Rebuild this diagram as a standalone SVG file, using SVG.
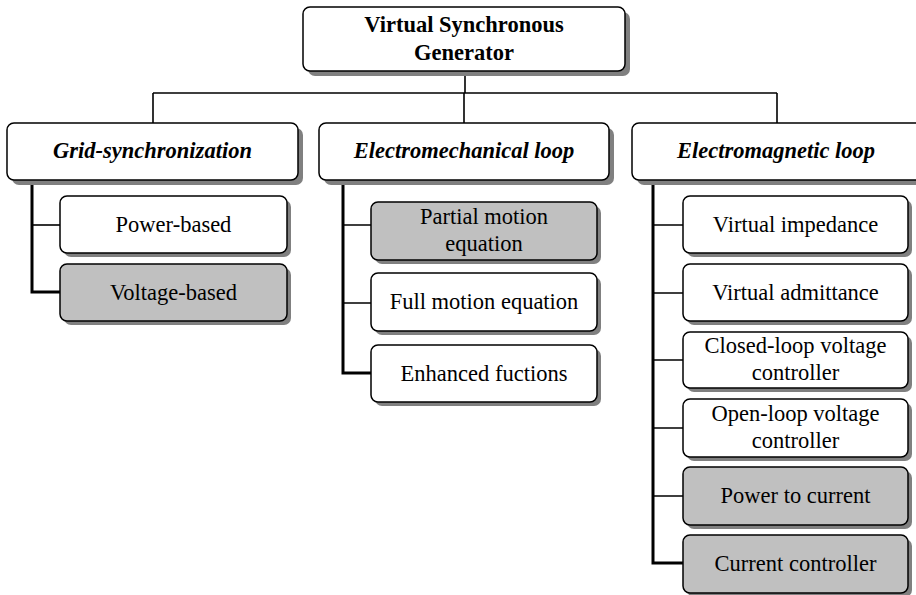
<svg xmlns="http://www.w3.org/2000/svg" width="916" height="595" viewBox="0 0 916 595">
  <style>
    .box { stroke: #000; stroke-width: 1.5; }
    .white { fill: #fff; }
    .grey { fill: #c0c0c0; }
    .shadow { fill: #808080; }
    .lbl { font-family: "Liberation Serif", "Times New Roman", serif; font-size: 22.5px; fill: #000; text-anchor: middle; }
    .root { font-weight: bold; }
    .cat { font-weight: bold; font-style: italic; }
    .wire { fill: none; stroke: #000; stroke-width: 1.6; }
    .trunk { fill: none; stroke: #000; stroke-width: 3; }
  </style>

  <!-- connectors -->
  <g id="connectors">
    <path class="wire" d="M465 71 V93 M153 93 H777 M153 93 V123 M464 93 V123 M777 93 V123"/>
    <!-- Grid-synchronization branch -->
    <path class="trunk" d="M32 180 V292 H60"/>
    <path class="wire" d="M32 225 H60"/>
    <!-- Electromechanical loop branch -->
    <path class="trunk" d="M343 180 V373 H371"/>
    <path class="wire" d="M343 225 H371 M343 303 H371"/>
    <!-- Electromagnetic loop branch -->
    <path class="trunk" d="M653 180 V563 H683"/>
    <path class="wire" d="M653 225 H683 M653 293 H683 M653 360 H683 M653 428 H683 M653 496 H683"/>
  </g>

  <!-- root -->
  <g id="vsg">
    <rect class="shadow" x="308" y="12" width="322" height="64" rx="7"/>
    <rect class="box white" x="303" y="7" width="322" height="64" rx="7"/>
    <text class="lbl root" x="464" y="32">Virtual Synchronous</text>
    <text class="lbl root" x="464" y="60">Generator</text>
  </g>

  <!-- categories -->
  <g id="grid-sync">
    <rect class="shadow" x="12" y="128" width="291" height="57" rx="7"/>
    <rect class="box white" x="7" y="123" width="291" height="57" rx="7"/>
    <text class="lbl cat" x="152.5" y="158">Grid-synchronization</text>
  </g>
  <g id="electromech">
    <rect class="shadow" x="324" y="128" width="290" height="57" rx="7"/>
    <rect class="box white" x="319" y="123" width="290" height="57" rx="7"/>
    <text class="lbl cat" x="464" y="158">Electromechanical loop</text>
  </g>
  <g id="electromag">
    <rect class="shadow" x="637" y="128" width="290" height="57" rx="7"/>
    <rect class="box white" x="632" y="123" width="290" height="57" rx="7"/>
    <text class="lbl cat" x="776" y="158">Electromagnetic loop</text>
  </g>

  <!-- grid-synchronization children -->
  <g id="power-based">
    <rect class="shadow" x="64" y="200" width="227" height="57" rx="7"/>
    <rect class="box white" x="60" y="196" width="227" height="57" rx="7"/>
    <text class="lbl" x="173.5" y="232">Power-based</text>
  </g>
  <g id="voltage-based">
    <rect class="shadow" x="64" y="268" width="227" height="57" rx="7"/>
    <rect class="box grey" x="60" y="264" width="227" height="57" rx="7"/>
    <text class="lbl" x="173.5" y="300">Voltage-based</text>
  </g>

  <!-- electromechanical children -->
  <g id="partial-motion">
    <rect class="shadow" x="375" y="206" width="226" height="58" rx="7"/>
    <rect class="box grey" x="371" y="202" width="226" height="58" rx="7"/>
    <text class="lbl" x="484" y="224">Partial motion</text>
    <text class="lbl" x="484" y="251">equation</text>
  </g>
  <g id="full-motion">
    <rect class="shadow" x="375" y="277" width="226" height="58" rx="7"/>
    <rect class="box white" x="371" y="273" width="226" height="58" rx="7"/>
    <text class="lbl" x="484" y="309">Full motion equation</text>
  </g>
  <g id="enhanced">
    <rect class="shadow" x="375" y="349" width="226" height="57" rx="7"/>
    <rect class="box white" x="371" y="345" width="226" height="57" rx="7"/>
    <text class="lbl" x="484" y="381">Enhanced fuctions</text>
  </g>

  <!-- electromagnetic children -->
  <g id="virtual-impedance">
    <rect class="shadow" x="687" y="200" width="225" height="57" rx="7"/>
    <rect class="box white" x="683" y="196" width="225" height="57" rx="7"/>
    <text class="lbl" x="795.5" y="232">Virtual impedance</text>
  </g>
  <g id="virtual-admittance">
    <rect class="shadow" x="687" y="268" width="225" height="57" rx="7"/>
    <rect class="box white" x="683" y="264" width="225" height="57" rx="7"/>
    <text class="lbl" x="795.5" y="300">Virtual admittance</text>
  </g>
  <g id="closed-loop">
    <rect class="shadow" x="687" y="336" width="225" height="56" rx="7"/>
    <rect class="box white" x="683" y="332" width="225" height="56" rx="7"/>
    <text class="lbl" x="795.5" y="353">Closed-loop voltage</text>
    <text class="lbl" x="795.5" y="380">controller</text>
  </g>
  <g id="open-loop">
    <rect class="shadow" x="687" y="403" width="225" height="58" rx="7"/>
    <rect class="box white" x="683" y="399" width="225" height="58" rx="7"/>
    <text class="lbl" x="795.5" y="421">Open-loop voltage</text>
    <text class="lbl" x="795.5" y="448">controller</text>
  </g>
  <g id="power-to-current">
    <rect class="shadow" x="687" y="471" width="225" height="58" rx="7"/>
    <rect class="box grey" x="683" y="467" width="225" height="58" rx="7"/>
    <text class="lbl" x="795.5" y="503">Power to current</text>
  </g>
  <g id="current-controller">
    <rect class="shadow" x="687" y="539" width="225" height="58" rx="7"/>
    <rect class="box grey" x="683" y="535" width="225" height="58" rx="7"/>
    <text class="lbl" x="795.5" y="571">Current controller</text>
  </g>
</svg>
